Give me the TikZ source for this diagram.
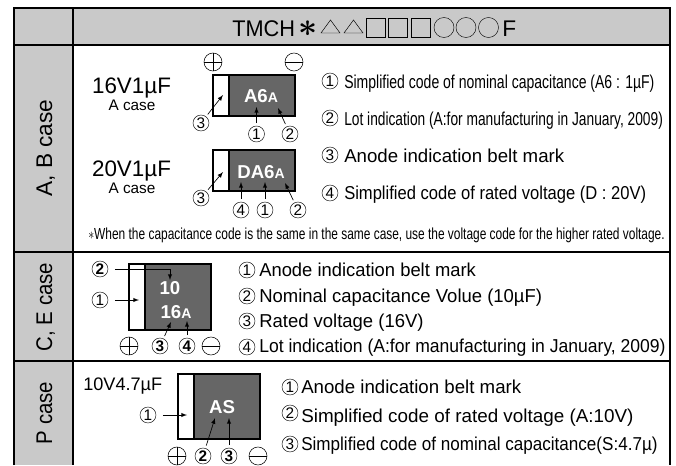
\documentclass[tikz,border=0pt]{standalone}
\usepackage{graphicx}
\usepackage{fontspec}
\setmainfont{Liberation Sans}
\newcommand{\squeeze}[2]{\scalebox{#1}[1]{#2}}
\newcommand{\fs}[1]{\fontsize{#1}{#1}\selectfont}
\definecolor{headgray}{HTML}{C9C9C9}
\definecolor{chipgray}{HTML}{666666}
\begin{document}
\begin{tikzpicture}[x=0.75pt,y=-0.75pt]
    \tikzstyle{chipbody}=[draw=black,fill=chipgray,line width=1pt,inner sep=0pt,minimum width=61.5pt,minimum height=30.75pt,text=white,font=\bfseries]
    \tikzstyle{belt}=[draw=black,fill=white,line width=1pt,inner sep=0pt,minimum width=12pt,minimum height=30.75pt]
    \tikzstyle{num}=[circle,draw=black,line width=0.35pt,inner sep=0pt,minimum size=12pt,font=\fs{11.5}]
    \tikzstyle{boldnum}=[num,font=\fs{11.5}\bfseries]
    \tikzstyle{polarity}=[circle,draw=black,line width=0.4pt,inner sep=0pt,minimum size=13.5pt]
    \tikzstyle{plusmark}=[polarity,path picture={\draw [line width=0.4pt] (path picture bounding box.west) -- (path picture bounding box.east); \draw [line width=0.4pt] (path picture bounding box.north) -- (path picture bounding box.south);}]
    \tikzstyle{minusmark}=[polarity,path picture={\draw [line width=0.4pt] (path picture bounding box.west) -- (path picture bounding box.east);}]
    \tikzstyle{txt}=[inner sep=0pt,anchor=base west,font=\fs{14}]
    \tikzstyle{case}=[inner sep=0pt,anchor=base,rotate=90,font=\fs{17}]
    \tikzstyle{callout}=[-latex,line width=0.5pt,shorten <=2pt]
    \tikzstyle{hshape}=[draw=black,line width=0.35pt,inner sep=0pt]

    \useasboundingbox (0,0) rectangle (676,465);

    % table
    \fill [headgray] (14,8) rectangle (670,45);
    \fill [headgray] (14,45) rectangle (73,465);
    \draw [line width=2pt] (14,465) -- (14,8) -- (670,8) -- (670,465);
    \draw [line width=2pt] (73,8) -- (73,465);
    \draw [line width=2pt] (14,45) -- (670,45);
    \draw [line width=2pt] (14,252) -- (670,252);
    \draw [line width=2pt] (14,361) -- (670,361);

    % header
    \node (tmch) at (232,36) [txt,font=\fs{17}] {\squeeze{0.96}{TMCH}};
    \node (star) at (308,29) [inner sep=0pt,font=\fs{24}\boldmath] {\(\ast\)};
    \draw [hshape] (321,33) -- (340,33) -- (330.5,20) -- cycle;
    \draw [hshape] (344,33) -- (363,33) -- (353.5,20) -- cycle;
    \draw [hshape] (366,18) rectangle (385,37);
    \draw [hshape] (388,18) rectangle (407,37);
    \draw [hshape] (411,18) rectangle (430,37);
    \draw [hshape] (444,27.5) circle (10);
    \draw [hshape] (466,27.5) circle (10);
    \draw [hshape] (488.5,27.5) circle (10);
    \node (farad) at (502,36) [txt,font=\fs{17}] {F};

    % case labels
    \node (abcase) at (52,148) [case] {A, B case};
    \node (cecase) at (52,307) [case] {\squeeze{0.9}{C, E case}};
    \node (pcase) at (52,413) [case] {\squeeze{0.9}{P case}};

    % A, B case
    \node (vala) at (131.5,93) [inner sep=0pt,anchor=base,font=\fs{16.8}] {16V1µF};
    \node (casea) at (132,110) [inner sep=0pt,anchor=base,font=\fs{11.5}] {A case};
    \node (valb) at (131.5,176) [inner sep=0pt,anchor=base,font=\fs{16.8}] {20V1µF};
    \node (caseb) at (132,193) [inner sep=0pt,anchor=base,font=\fs{11.5}] {A case};

    \node (pa) at (213,62) [plusmark] {};
    \node (ma) at (294,62) [minusmark] {};
    \node (chipa) at (254,95.5) [chipbody] {};
    \node (belta) at (221,95.5) [belt] {};
    \node (marka) at (261,96) [inner sep=0pt,text=white,font=\bfseries] {\fs{14}A6\fs{10.5}A};
    \node (a3) at (201,123) [num] {3};
    \node (a1) at (256.5,134) [num] {1};
    \node (a2) at (290,134) [num] {2};
    \coordinate (ta3) at (223,95);
    \coordinate (ta1) at (256.5,107);
    \coordinate (ta2) at (278,108);
    \draw [callout] (a3) -- (ta3);
    \draw [callout] (a1) -- (ta1);
    \draw [callout] (a2) -- (ta2);

    \node (chipb) at (254,170.5) [chipbody] {};
    \node (beltb) at (221,170.5) [belt] {};
    \node (markb) at (261,172) [inner sep=0pt,text=white,font=\bfseries] {\fs{14}DA6\fs{10.5}A};
    \node (b3) at (201,198) [num] {3};
    \node (b4) at (241,210) [num] {4};
    \node (b1) at (265,210) [num] {1};
    \node (b2) at (298,210) [num] {2};
    \coordinate (tb3) at (223,172);
    \coordinate (tb4) at (241,182);
    \coordinate (tb1) at (265,182);
    \coordinate (tb2) at (285,183);
    \draw [callout] (b3) -- (tb3);
    \draw [callout] (b4) -- (tb4);
    \draw [callout] (b1) -- (tb1);
    \draw [callout] (b2) -- (tb2);

    \node (ab1) at (330,81) [num] {1};
    \node (ab2) at (330,118) [num] {2};
    \node (ab3) at (330,155) [num] {3};
    \node (ab4) at (330,193) [num] {4};
    \node (abt1) at (344,88) [txt] {\squeeze{0.751}{Simplified code of nominal capacitance (A6 : 1µF)}};
    \node (abt2) at (344,125) [txt] {\squeeze{0.737}{Lot indication (A:for manufacturing in January, 2009)}};
    \node (abt3) at (344,162) [txt] {Anode indication belt mark};
    \node (abt4) at (344,199) [txt] {\squeeze{0.887}{Simplified code of rated voltage (D : 20V)}};
    \node (note) at (88,239) [txt,font=\fs{12}] {\squeeze{0.745}{\(\ast\)When the capacitance code is the same in the same case, use the voltage code for the higher rated voltage.}};

    % C, E case
    \node (chipc) at (170,297) [chipbody,minimum height=49.5pt] {};
    \node (beltc) at (137,297) [belt,minimum height=49.5pt] {};
    \node (markc1) at (170,288) [inner sep=0pt,text=white,font=\bfseries\fs{14}] {10};
    \node (markc2) at (176,312) [inner sep=0pt,text=white,font=\bfseries] {\fs{14}16\fs{10.5}A};
    \node (c2) at (100,269) [boldnum] {2};
    \node (c1) at (100,300) [num] {1};
    \node (pc) at (129,346) [plusmark] {};
    \node (c3) at (160,346) [boldnum] {3};
    \node (c4) at (187,346) [boldnum] {4};
    \node (mc) at (211,346) [minusmark] {};
    \coordinate (tc2) at (170,280);
    \coordinate (tc1) at (139,300);
    \coordinate (tc3) at (171,322);
    \coordinate (tc4) at (187,321);
    \draw [callout,shorten <=5pt] (c2) -| (tc2);
    \draw [callout,shorten <=5pt] (c1) -- (tc1);
    \draw [callout] (c3) -- (tc3);
    \draw [callout] (c4) -- (tc4);

    \node (ce1) at (247,270) [num] {1};
    \node (ce2) at (247,296) [num] {2};
    \node (ce3) at (247,321) [num] {3};
    \node (ce4) at (247,347) [num] {4};
    \node (cet1) at (259,276) [txt] {\squeeze{0.985}{Anode indication belt mark}};
    \node (cet2) at (259,302) [txt] {\squeeze{0.99}{Nominal capacitance Volue (10µF)}};
    \node (cet3) at (259,327) [txt] {\squeeze{0.99}{Rated voltage (16V)}};
    \node (cet4) at (259,352) [txt] {\squeeze{0.94}{Lot indication (A:for manufacturing in January, 2009)}};

    % P case
    \node (valp) at (83,390) [txt,font=\fs{13.6}] {10V4.7µF};
    \node (chipp) at (219,406.5) [chipbody,minimum height=48.75pt] {};
    \node (beltp) at (186,406.5) [belt,minimum height=48.75pt] {};
    \node (markp) at (222,407) [inner sep=0pt,text=white,font=\bfseries\fs{14}] {AS};
    \node (p1) at (148,415) [num] {1};
    \node (pp) at (177,456) [plusmark] {};
    \node (p2) at (203,456) [boldnum] {2};
    \node (p3) at (229,456) [boldnum] {3};
    \node (mp) at (258,456) [minusmark] {};
    \coordinate (tp1) at (187,415);
    \coordinate (tp2) at (215,418);
    \coordinate (tp3) at (229,418);
    \draw [callout,shorten <=5pt] (p1) -- (tp1);
    \draw [callout] (p2) -- (tp2);
    \draw [callout] (p3) -- (tp3);

    \node (pc1) at (290,387) [num] {1};
    \node (pc2) at (290,413) [num] {2};
    \node (pc3) at (290,444) [num] {3};
    \node (pct1) at (301,393) [txt] {Anode indication belt mark};
    \node (pct2) at (301,422) [txt] {\squeeze{1.01}{Simplified code of rated voltage (A:10V)}};
    \node (pct3) at (301,450) [txt] {\squeeze{0.915}{Simplified code of nominal capacitance(S:4.7µ)}};
\end{tikzpicture}
\end{document}
